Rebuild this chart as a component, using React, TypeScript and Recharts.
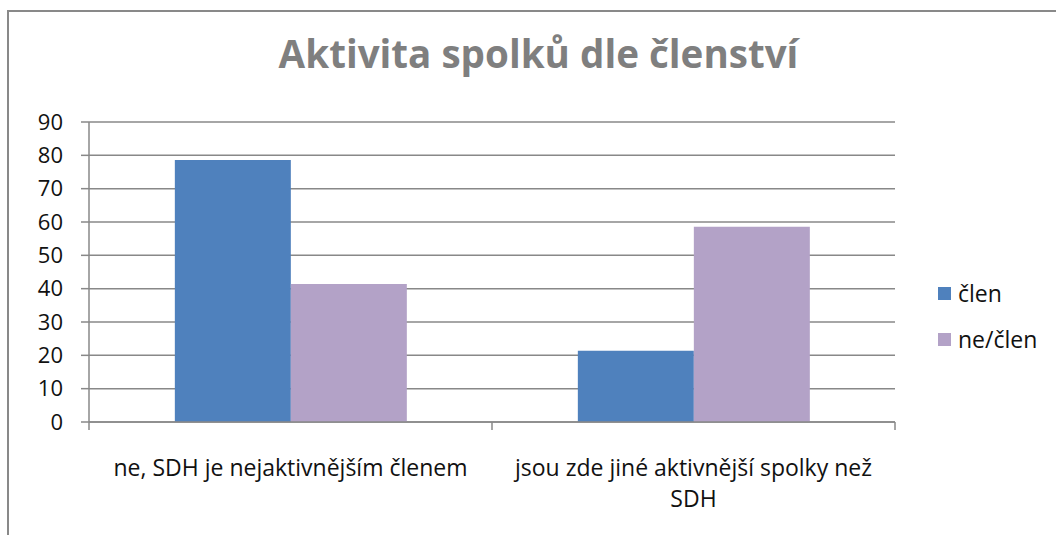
import React from 'react';
import { BarChart, Bar, XAxis, YAxis, CartesianGrid, Legend } from 'recharts';

// Values (percent)
const categories = ['ne, SDH je nejaktivnějším členem', 'jsou zde jiné aktivnější spolky než\nSDH'];
const clen = [78.6, 21.4];
const neClen = [41.4, 58.6];
const yTicks = [0, 10, 20, 30, 40, 50, 60, 70, 80, 90];

const data = categories.map((name, i) => ({ name, clen: clen[i], neClen: neClen[i] }));

const W = 1056;
const H = 535;
const MARGIN = { top: 122, right: 161, bottom: 0, left: 29 };
const Y_WIDTH = 60;
const X_HEIGHT = 113;
const PLOT_W = W - MARGIN.left - MARGIN.right - Y_WIDTH;
const BAND = PLOT_W / categories.length;

const FONT = '"Open Sans", Lato, sans-serif';
const GRID = '#888888';

const CategoryTick = (props: any) => {
  const { x, y, payload, index } = props;
  const lines = String(payload.value).split('\n');
  return (
    <g>
      <line x1={x - BAND / 2} x2={x - BAND / 2} y1={y} y2={y + 8} stroke={GRID} strokeWidth={1.5} />
      {index === categories.length - 1 && (
        <line x1={x + BAND / 2} x2={x + BAND / 2} y1={y} y2={y + 8} stroke={GRID} strokeWidth={1.5} />
      )}
      {lines.map((l, i) => (
        <text key={i} x={x} y={y + 54 + i * 31} textAnchor="middle" fontSize={23} fill="#111" fontFamily={FONT}>
          {l}
        </text>
      ))}
    </g>
  );
};

const LegendContent = () => (
  <div style={{ fontFamily: FONT, fontSize: 23, color: '#111' }}>
    {[
      { label: 'člen', color: '#4f81bd' },
      { label: 'ne/člen', color: '#b3a2c7' },
    ].map((it) => (
      <div key={it.label} style={{ display: 'flex', alignItems: 'center', height: 46 }}>
        <span style={{ width: 13, height: 13, background: it.color, marginRight: 7, display: 'inline-block' }} />
        <span>{it.label}</span>
      </div>
    ))}
  </div>
);

export default function App() {
  return (
    <div style={{ position: 'absolute', left: 0, top: 0, width: W, height: H, overflow: 'hidden', background: '#fff' }}>
      <div
        style={{
          position: 'absolute',
          left: 7,
          top: 10,
          width: W + 20,
          height: H + 20,
          border: '2px solid #898989',
          boxSizing: 'border-box',
        }}
      />
      <div
        style={{
          position: 'absolute',
          left: 0,
          width: W,
          top: 33,
          textAlign: 'center',
          paddingLeft: 21,
          boxSizing: 'border-box',
          fontFamily: FONT,
          fontWeight: 'bold',
          fontSize: 38.6,
          color: '#7f7f7f',
          lineHeight: '40px',
        }}
      >
        Aktivita spolků dle členství
      </div>
      <div style={{ position: 'absolute', left: 0, top: 0 }}>
        <BarChart width={W} height={H} data={data} margin={MARGIN} barCategoryGap="21.3%" barGap={0}>
          <CartesianGrid vertical={false} stroke={GRID} strokeWidth={1.5} />
          <XAxis
            dataKey="name"
            height={X_HEIGHT}
            tickLine={false}
            tickSize={0}
            tickMargin={0}
            axisLine={{ stroke: GRID, strokeWidth: 1.5 }}
            tick={<CategoryTick />}
            interval={0}
          />
          <YAxis
            width={Y_WIDTH}
            domain={[0, 90]}
            ticks={yTicks}
            interval={0}
            tickSize={8}
            tickMargin={18}
            axisLine={{ stroke: GRID, strokeWidth: 1.5 }}
            tickLine={{ stroke: GRID, strokeWidth: 1.5 }}
            tick={{ fill: '#111', fontSize: 22, fontFamily: FONT }}
          />
          <Legend
            layout="horizontal"
            verticalAlign="middle"
            content={<LegendContent />}
            wrapperStyle={{ left: 938, top: 270, width: 120 }}
          />
          <Bar dataKey="clen" name="člen" fill="#4f81bd" isAnimationActive={false} />
          <Bar dataKey="neClen" name="ne/člen" fill="#b3a2c7" isAnimationActive={false} />
        </BarChart>
      </div>
    </div>
  );
}
